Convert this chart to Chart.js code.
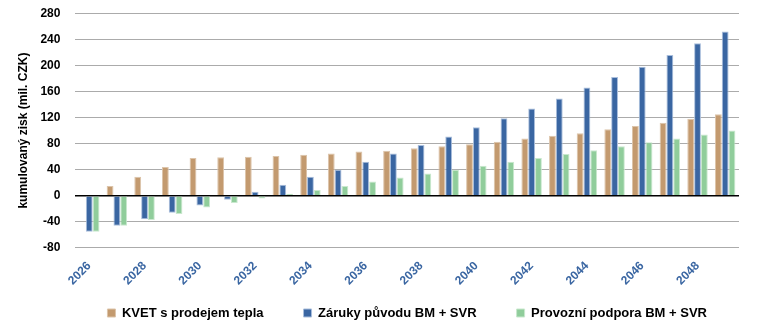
<!DOCTYPE html>
<html>
<head>
<meta charset="utf-8">
<script src="https://cdn.jsdelivr.net/npm/chart.js@4"></script>
<style>
  html, body { margin: 0; padding: 0; background: #fff; }
  #wrap { width: 759px; height: 331px; position: relative; }
</style>
</head>
<body>
<div id="wrap"><canvas id="chart"></canvas></div>
<script>
// roky
const years = [2026, 2027, 2028, 2029, 2030, 2031, 2032, 2033, 2034, 2035, 2036, 2037,
               2038, 2039, 2040, 2041, 2042, 2043, 2044, 2045, 2046, 2047, 2048, 2049];

// kumulovaný zisk (mil. CZK)
const kvet = [0, 15, 29, 44, 58, 59, 60, 61, 63, 65, 68, 69,
              73, 76, 79, 83, 88, 92, 96, 102, 107, 112, 118, 125];
const zaruky = [-55, -46, -36, -26, -15, -6, 6, 17, 29, 40, 52, 65,
                78, 91, 105, 119, 134, 149, 166, 182, 198, 216, 234, 252];
const provozni = [-55, -46, -37, -28, -18, -11, -4, 3, 9, 15, 22, 28,
                  34, 40, 46, 52, 58, 64, 70, 76, 82, 88, 94, 100];

const yTicks = { min: -80, max: 280, step: 40 };

const FONT = "'Liberation Sans', Arial, sans-serif";

// legenda: velká mezera mezi položkami, nízký box, vystředěná pod grafem
const legendHeight = 40;
const legendOffset = 22;
const compactLegend = {
    id: 'compactLegend',
    afterInit(chart) {
        const lg = chart.legend;
        if (!lg) return;
        const fit = lg.fit;
        lg.fit = function () { fit.call(this); this.height = legendHeight; };
        const draw = lg.draw;
        lg.draw = function () {
            const {top, left, right} = this;
            const pad = this.options.labels.padding;
            const ca = chart.chartArea;
            const dx = (ca.left + ca.right) / 2 - (left + right) / 2;
            this.top = top - (pad + 6.5 - legendOffset);
            this.left = left + dx;
            this.right = right + dx;
            draw.call(this);
            this.top = top; this.left = left; this.right = right;
        };
    }
};

new Chart(document.getElementById('chart'), {
    type: 'bar',
    data: {
        labels: years,
        datasets: [
            { label: 'KVET s prodejem tepla', data: kvet, backgroundColor: '#C39A6F', borderColor: '#DCC4AA', borderWidth: 1 },
            { label: 'Záruky původu BM + SVR', data: zaruky, backgroundColor: '#3A66A2', borderColor: '#A9BEDC', borderWidth: 1 },
            { label: 'Provozní podpora BM + SVR', data: provozni, backgroundColor: '#90CD9B', borderColor: '#C9E8CE', borderWidth: 1 }
        ]
    },
    plugins: [compactLegend],
    options: {
        responsive: true,
        maintainAspectRatio: false,
        animation: false,
        layout: { padding: { top: 0, right: 20, left: 12, bottom: 0 } },
        datasets: { bar: { categoryPercentage: 0.74, barPercentage: 1.0 } },
        plugins: {
            legend: {
                position: 'bottom',
                labels: {
                    boxWidth: 8, boxHeight: 8, padding: 40,
                    color: '#000',
                    font: { family: FONT, size: 13, weight: 'bold' }
                }
            },
            tooltip: { enabled: false }
        },
        scales: {
            x: {
                grid: { display: false },
                border: { display: false },
                ticks: {
                    autoSkip: false,
                    maxRotation: 45, minRotation: 45,
                    color: '#3A66A2',
                    font: { family: FONT, size: 12, weight: 'bold' },
                    callback: function (v, i) { return i % 2 === 0 ? this.getLabelForValue(v) : ''; }
                }
            },
            y: {
                min: yTicks.min, max: yTicks.max,
                border: { display: false },
                grid: {
                    color: (c) => c.tick && c.tick.value === 0 ? '#000' : '#ABABAB',
                    lineWidth: (c) => c.tick && c.tick.value === 0 ? 1.5 : 1,
                    drawTicks: true,
                    tickLength: 9,
                    tickColor: 'rgba(0,0,0,0)'
                },
                ticks: {
                    stepSize: yTicks.step,
                    padding: 6,
                    color: '#000',
                    font: { family: FONT, size: 12, weight: 'bold' }
                },
                title: {
                    display: true,
                    text: 'kumulovaný zisk (mil. CZK)',
                    color: '#000',
                    font: { family: FONT, size: 12, weight: 'bold' }
                }
            }
        }
    }
});
</script>
</body>
</html>
